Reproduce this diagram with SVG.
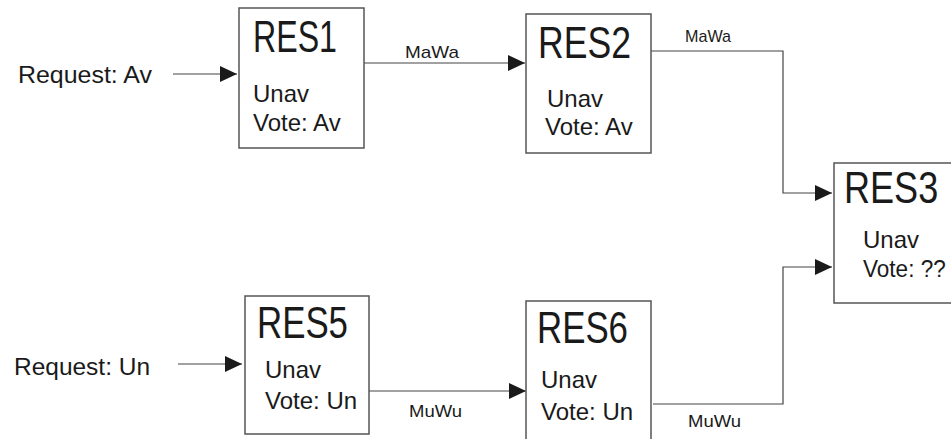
<svg xmlns="http://www.w3.org/2000/svg" width="951" height="439" viewBox="0 0 951 439">
<style>
text{font-family:"Liberation Sans",Arial,sans-serif;fill:#1a1a1a}
.t{font-size:44px}
.b{font-size:24px}
.l{font-size:17px}
.box{fill:#fff;stroke:#555;stroke-width:1.5}
.c{fill:none;stroke:#444;stroke-width:1.2}
</style>
<defs>
<marker id="ah" viewBox="0 0 17 16" refX="17" refY="8" markerWidth="17" markerHeight="16" markerUnits="userSpaceOnUse" orient="auto">
<path d="M0,0 L17,8 L0,16 Z" fill="#1a1a1a"/>
</marker>
</defs>
<g id="connectors">
<path class="c" d="M173,74 H237" marker-end="url(#ah)"/>
<path class="c" d="M364,63 H525" marker-end="url(#ah)"/>
<path class="c" d="M651,51 H783 V193 H832" marker-end="url(#ah)"/>
<path class="c" d="M178,364 H242" marker-end="url(#ah)"/>
<path class="c" d="M369,391 H526" marker-end="url(#ah)"/>
<path class="c" d="M653,404 H783 V267 H832" marker-end="url(#ah)"/>
<text class="l" x="405" y="58" textLength="54" lengthAdjust="spacingAndGlyphs">MaWa</text>
<text class="l" x="685" y="42" textLength="46" lengthAdjust="spacingAndGlyphs">MaWa</text>
<text class="l" x="409" y="417" textLength="53" lengthAdjust="spacingAndGlyphs">MuWu</text>
<text class="l" x="688" y="427" textLength="53" lengthAdjust="spacingAndGlyphs">MuWu</text>
</g>
<g id="req-av"><text class="b" x="18" y="83" textLength="134" lengthAdjust="spacingAndGlyphs">Request: Av</text></g>
<g id="req-un"><text class="b" x="14" y="375" textLength="136" lengthAdjust="spacingAndGlyphs">Request: Un</text></g>
<g id="res1">
<rect class="box" x="239" y="8" width="125" height="140"/>
<text class="t" x="253" y="52" textLength="84" lengthAdjust="spacingAndGlyphs">RES1</text>
<text class="b" x="253" y="102">Unav</text>
<text class="b" x="253" y="131">Vote: Av</text>
</g>
<g id="res2">
<rect class="box" x="526" y="14" width="125" height="139"/>
<text class="t" x="538" y="58" textLength="93" lengthAdjust="spacingAndGlyphs">RES2</text>
<text class="b" x="547" y="107">Unav</text>
<text class="b" x="545" y="135">Vote: Av</text>
</g>
<g id="res3">
<rect class="box" x="834" y="163" width="140" height="140"/>
<text class="t" transform="translate(844,203) scale(0.82,1)">RES3</text>
<text class="b" transform="translate(863,277) scale(0.94,1)">Vote: ??</text>
<text class="b" x="863" y="248">Unav</text>
</g>
<g id="res5">
<rect class="box" x="245" y="296" width="124" height="138"/>
<text class="t" x="257" y="338" textLength="91" lengthAdjust="spacingAndGlyphs">RES5</text>
<text class="b" x="265" y="378">Unav</text>
<text class="b" x="265" y="409">Vote: Un</text>
</g>
<g id="res6">
<rect class="box" x="526" y="301" width="125" height="142"/>
<text class="t" x="537" y="343" textLength="91" lengthAdjust="spacingAndGlyphs">RES6</text>
<text class="b" x="541" y="388">Unav</text>
<text class="b" x="541" y="420">Vote: Un</text>
</g>
</svg>
